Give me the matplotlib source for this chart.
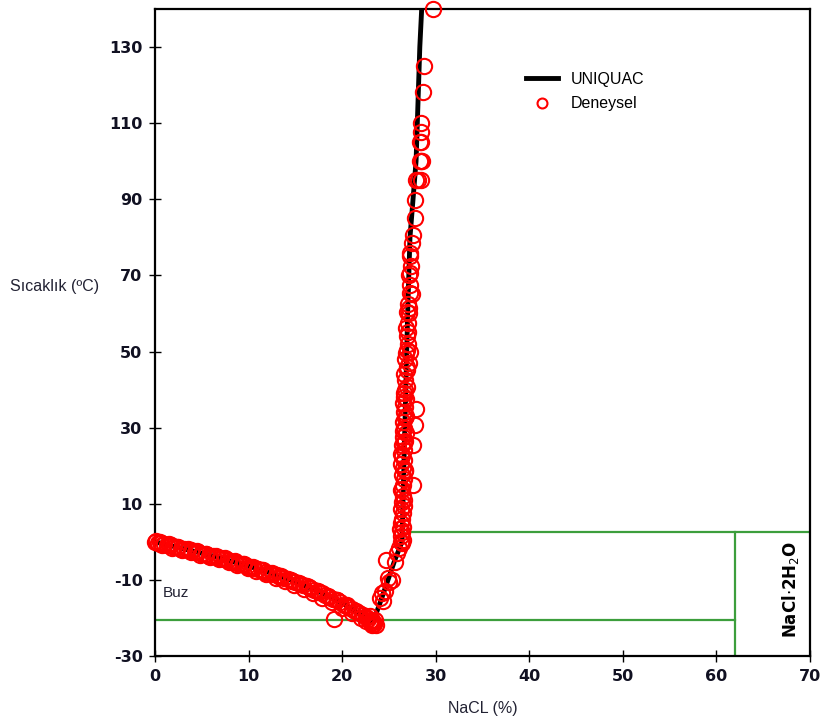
import matplotlib.pyplot as plt

plt.rcParams['axes.unicode_minus'] = False

# UNIQUAC model curve (NaCl %, T in C)
uniq_x = [0.0, 1.0, 2.0, 3.0, 4.0, 5.0, 6.0, 7.0, 8.0, 9.0, 10.0, 11.0, 12.0, 13.0, 14.0,
          15.0, 16.0, 17.0, 18.0, 19.0, 20.0, 21.0, 22.0, 23.3,
          24.2, 24.9, 25.6, 26.4, 26.6, 26.8, 27.0, 27.25, 27.9, 28.1, 28.3, 28.5]
uniq_t = [0.0, -0.6, -1.2, -1.8, -2.4, -3.0, -3.6, -4.3, -5.0, -5.7, -6.4, -7.1, -7.9, -8.7, -9.6,
          -10.5, -11.5, -12.5, -13.6, -14.8, -16.1, -17.6, -19.2, -21.1,
          -15.0, -10.0, -5.0, 0.0, 20.0, 40.0, 60.0, 80.0, 100.0, 115.0, 130.0, 140.0]

# experimental points (Deneysel)
exp_x = [0.0, 0.1, 0.3, 0.6, 1.0, 1.3, 1.7, 2.0, 2.4, 2.8, 3.1, 3.5, 3.9, 4.3, 4.6, 5.0,
         5.4, 5.8, 6.2, 6.6, 7.0, 7.4, 7.8, 8.2, 8.6, 9.0, 9.4, 9.8, 10.2, 10.6, 11.0,
         11.4, 11.8, 12.2, 12.6, 13.0, 13.4, 13.8, 14.2, 14.6, 15.0, 15.4, 15.8, 16.2,
         16.6, 17.0, 17.4, 17.8, 18.2, 18.6, 19.0, 19.4, 19.8, 20.2, 20.6, 21.0, 21.4,
         21.8, 22.2, 22.6,
         0.5, 1.5, 2.5, 3.5, 4.5, 5.5, 6.5, 7.5, 8.5, 9.5, 10.5, 11.5, 12.5, 13.5, 14.5,
         15.5, 16.5, 17.5, 18.5, 19.1, 19.5, 20.5, 21.5,
         0.8, 1.8, 2.9, 3.8, 4.8, 5.9, 6.8, 7.9, 8.8, 9.9, 10.8, 11.9, 12.9, 13.9, 14.9,
         15.9, 16.9, 17.9, 18.9, 20.0, 21.1, 22.0,
         22.8, 23.0, 23.1, 23.2, 23.3, 23.4, 23.5, 23.2, 23.0, 22.6, 23.6,
         24.0, 24.3, 24.4, 24.6, 24.9, 25.0, 25.3, 24.7, 25.6, 25.9, 26.1,
         26.3, 26.4, 26.5, 26.3, 26.4, 26.5, 26.3, 26.4, 26.5, 26.3, 26.6, 26.4, 26.5,
         27.6, 26.3, 26.5, 26.6, 26.4, 26.7, 26.5, 26.3, 26.6, 26.4, 27.6, 26.6, 26.4,
         26.7, 26.5, 26.8, 26.6, 27.8, 26.5, 26.7, 26.6, 27.9, 26.7, 26.5, 26.8, 26.6,
         26.7, 26.9, 26.7, 26.6, 26.9, 27.1, 27.2, 26.9, 26.8, 27.0, 26.9, 26.8, 27.0,
         26.9, 27.1, 27.0, 27.2, 27.5, 27.3, 27.1, 27.3, 27.4, 27.3, 27.2, 27.5, 27.6,
         26.2, 26.6, 26.4, 26.7, 26.3, 26.6, 26.5, 26.8, 26.6, 26.9, 26.7, 27.0, 27.1,
         27.8, 27.8, 27.9, 28.1, 28.4, 28.3, 28.4, 28.5, 28.4, 28.3, 28.4, 28.4, 28.6,
         28.7, 29.7]
exp_t = [0.0, 0.2, -0.3, -0.3, -0.7, -0.9, -0.9, -1.3, -1.3, -1.8, -1.8, -2.2, -2.2, -2.6, -2.8, -3.1,
         -3.2, -3.6, -3.7, -4.1, -4.3, -4.5, -4.9, -5.2, -5.4, -5.7, -5.9, -6.4, -6.5, -6.9, -7.1,
         -7.5, -7.8, -8.1, -8.5, -8.8, -9.2, -9.5, -9.8, -10.2, -10.6, -10.9, -11.4, -11.7,
         -12.2, -12.6, -13.0, -13.5, -13.9, -14.4, -14.9, -15.4, -15.9, -16.5, -17.0, -17.6, -18.1,
         -18.8, -19.3, -19.8,
         -0.1, -0.6, -1.3, -1.9, -2.5, -3.1, -3.8, -4.3, -5.1, -5.9, -6.5, -7.3, -8.1, -9.0, -9.9,
         -11.0, -11.9, -13.1, -14.3, -20.2, -15.3, -16.7, -18.3,
         -0.9, -1.5, -2.1, -2.8, -3.4, -4.0, -4.6, -5.4, -6.1, -6.9, -7.7, -8.5, -9.4, -10.4, -11.3,
         -12.4, -13.5, -14.7, -15.9, -17.3, -18.6, -20.1,
         -20.2, -20.8, -21.3, -20.5, -21.0, -21.5, -20.6, -21.8, -19.6, -20.9, -21.9,
         -14.8, -13.4, -15.5, -13.0, -9.5, -10.5, -10.0, -4.8, -5.2, -3.0, -1.5,
         0.0, -0.3, 0.4, 1.5, 2.5, 4.0, 5.0, 6.0, 7.5, 8.5, 9.5, 10.5, 12.0,
         15.0, 13.5, 15.0, 16.5, 17.5, 18.5, 19.5, 20.5, 21.5, 22.5, 25.4, 24.0, 25.5,
         26.5, 27.5, 28.5, 30.0, 30.7, 31.5, 32.5, 34.0, 35.0, 35.5, 36.5, 37.5, 39.0,
         40.0, 40.7, 42.5, 44.0, 45.1, 47.0, 50.0, 50.4, 49.5, 52.0, 54.0, 56.2, 57.5,
         60.4, 60.0, 62.5, 65.4, 65.0, 67.5, 70.0, 70.6, 72.5, 75.0, 75.9, 78.5, 80.6,
         3.5, 11.0, 14.0, 19.0, 23.0, 26.0, 29.0, 33.0, 38.0, 46.0, 48.0, 55.0, 61.5,
         85.0, 89.8, 95.0, 95.0, 95.0, 100.0, 100.0, 100.0, 105.0, 105.0, 107.7, 110.0, 118.2,
         125.0, 140.0]

ice_box_t = -20.6
hydro_t = 2.5
hydro_x0 = 27.2
hydro_x1 = 62.0

fig = plt.figure(figsize=(8.21, 7.24), dpi=100)
ax = fig.add_axes([0.1888, 0.0939, 0.7978, 0.8937])

green = '#3c9e3c'
ax.plot([0, hydro_x1], [ice_box_t, ice_box_t], color=green, lw=1.6, zorder=1)
ax.plot([hydro_x0, 70], [hydro_t, hydro_t], color=green, lw=1.6, zorder=1)
ax.plot([hydro_x1, hydro_x1], [-30, hydro_t], color=green, lw=1.6, zorder=1)

ax.plot(uniq_x, uniq_t, color='black', lw=3.5, label='UNIQUAC', zorder=2)
ax.plot(exp_x, exp_t, 'o', mfc='none', mec='red', ms=11, mew=1.5,
        label='Deneysel', zorder=3, clip_on=False)

ax.set_xlim(0, 70)
ax.set_ylim(-30, 140)
ax.set_xticks(range(0, 71, 10))
ax.set_yticks(range(-30, 131, 20))
ax.tick_params(direction='inout', length=8, width=1, colors='black', pad=5)
for lab in ax.get_xticklabels() + ax.get_yticklabels():
    lab.set_fontweight('bold')
    lab.set_fontsize(11.5)
    lab.set_color('#111122')
for s in ax.spines.values():
    s.set_linewidth(1.6)

lab_font = ['Liberation Sans', 'DejaVu Sans']
ax.set_ylabel('Sıcaklık (ºC)', rotation=0, fontsize=11.5, family=lab_font, color='#222233')
ax.yaxis.set_label_coords(-0.153, 0.56)
ax.set_xlabel('NaCL (%)', fontsize=11.5, family=lab_font, color='#222233')
ax.xaxis.set_label_coords(0.5, -0.07)

ax.text(0.8, -13.4, 'Buz', fontsize=11, family=lab_font, color='#222233', va='center')
ax.text(67.9, -12.5, r'NaCl$\cdot$2H$_2$O', rotation=90, fontsize=12, fontweight='bold',
        ha='center', va='center')

leg = ax.legend(loc='upper left', bbox_to_anchor=(0.545, 0.925), frameon=False,
                prop={'family': lab_font, 'size': 11.5}, handlelength=2.0,
                markerscale=0.65, labelspacing=0.6)

plt.savefig('out.png', dpi=100)
